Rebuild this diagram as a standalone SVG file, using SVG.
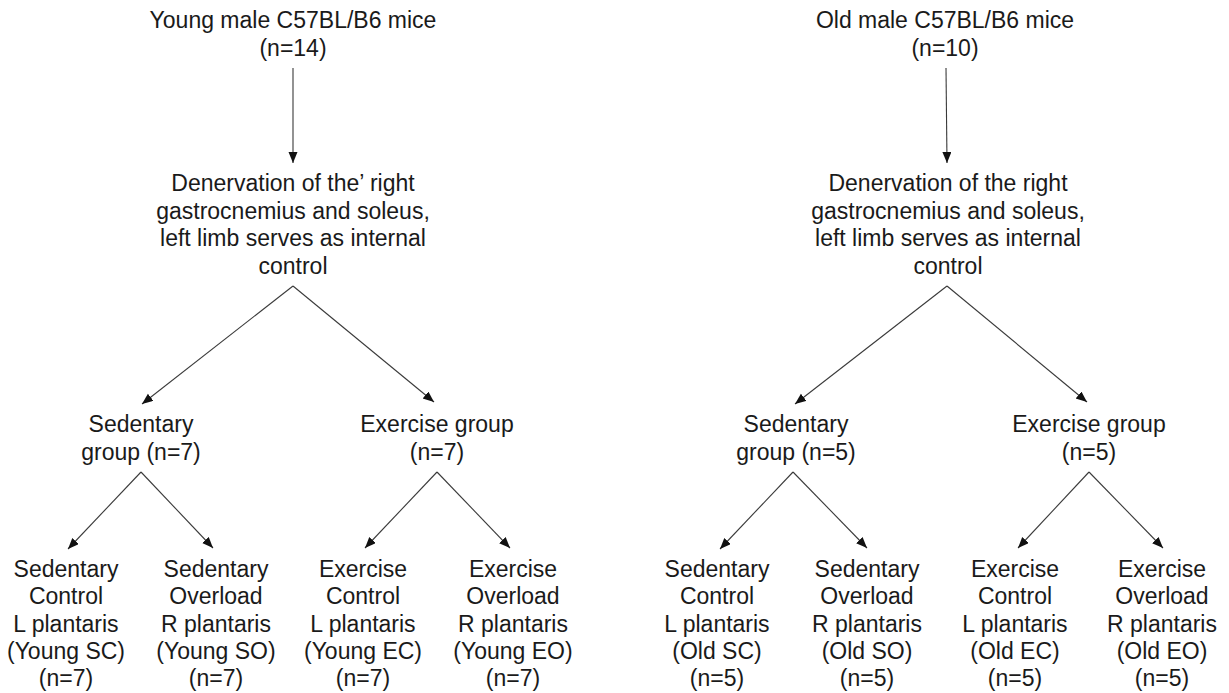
<svg xmlns="http://www.w3.org/2000/svg" width="1229" height="693" viewBox="0 0 1229 693">
<defs>
<marker id="ah" markerUnits="userSpaceOnUse" markerWidth="12" markerHeight="10" refX="11" refY="4.5" orient="auto">
<path d="M0,0 L11,4.5 L0,9 z" fill="#111"/>
</marker>
<style>
text{font-family:"Liberation Sans",Arial,sans-serif;font-size:23px;fill:#1a1a1a;text-anchor:middle}
.c line{stroke:#3a3a3a;stroke-width:1.1;marker-end:url(#ah)}
</style>
</defs>
<rect width="1229" height="693" fill="#fff"/>
<g id="young-root"><text x="293" y="28">Young male C57BL/B6 mice</text><text x="293" y="56">(n=14)</text></g>
<g id="old-root"><text x="945" y="28">Old male C57BL/B6 mice</text><text x="945" y="56">(n=10)</text></g>
<g id="young-denerv"><text x="293" y="191">Denervation of the’ right</text><text x="293" y="218.5">gastrocnemius and soleus,</text><text x="293" y="246">left limb serves as internal</text><text x="293" y="273.5">control</text></g>
<g id="old-denerv"><text x="948" y="191">Denervation of the right</text><text x="948" y="218.5">gastrocnemius and soleus,</text><text x="948" y="246">left limb serves as internal</text><text x="948" y="273.5">control</text></g>
<g id="young-sed"><text x="141" y="432">Sedentary</text><text x="141" y="460">group (n=7)</text></g>
<g id="young-ex"><text x="437" y="432">Exercise group</text><text x="437" y="460">(n=7)</text></g>
<g id="old-sed"><text x="796" y="432">Sedentary</text><text x="796" y="460">group (n=5)</text></g>
<g id="old-ex"><text x="1089" y="432">Exercise group</text><text x="1089" y="460">(n=5)</text></g>
<g id="young-sc"><text x="66" y="577">Sedentary</text><text x="66" y="604">Control</text><text x="66" y="632">L plantaris</text><text x="66" y="659">(Young SC)</text><text x="66" y="686">(n=7)</text></g>
<g id="young-so"><text x="216" y="577">Sedentary</text><text x="216" y="604">Overload</text><text x="216" y="632">R plantaris</text><text x="216" y="659">(Young SO)</text><text x="216" y="686">(n=7)</text></g>
<g id="young-ec"><text x="363" y="577">Exercise</text><text x="363" y="604">Control</text><text x="363" y="632">L plantaris</text><text x="363" y="659">(Young EC)</text><text x="363" y="686">(n=7)</text></g>
<g id="young-eo"><text x="513" y="577">Exercise</text><text x="513" y="604">Overload</text><text x="513" y="632">R plantaris</text><text x="513" y="659">(Young EO)</text><text x="513" y="686">(n=7)</text></g>
<g id="old-sc"><text x="717" y="577">Sedentary</text><text x="717" y="604">Control</text><text x="717" y="632">L plantaris</text><text x="717" y="659">(Old SC)</text><text x="717" y="686">(n=5)</text></g>
<g id="old-so"><text x="867" y="577">Sedentary</text><text x="867" y="604">Overload</text><text x="867" y="632">R plantaris</text><text x="867" y="659">(Old SO)</text><text x="867" y="686">(n=5)</text></g>
<g id="old-ec"><text x="1015" y="577">Exercise</text><text x="1015" y="604">Control</text><text x="1015" y="632">L plantaris</text><text x="1015" y="659">(Old EC)</text><text x="1015" y="686">(n=5)</text></g>
<g id="old-eo"><text x="1162" y="577">Exercise</text><text x="1162" y="604">Overload</text><text x="1162" y="632">R plantaris</text><text x="1162" y="659">(Old EO)</text><text x="1162" y="686">(n=5)</text></g>
<g id="connectors" class="c">
<line x1="293" y1="68" x2="293" y2="163"/>
<line x1="946" y1="68" x2="947" y2="163"/>
<line x1="293" y1="286" x2="142" y2="404"/>
<line x1="293" y1="286" x2="434" y2="402"/>
<line x1="947" y1="286" x2="795" y2="404"/>
<line x1="947" y1="286" x2="1087" y2="402"/>
<line x1="141" y1="472" x2="68" y2="549"/>
<line x1="141" y1="472" x2="213" y2="548"/>
<line x1="437" y1="472" x2="365" y2="548"/>
<line x1="437" y1="472" x2="510" y2="548"/>
<line x1="793" y1="472" x2="720" y2="549"/>
<line x1="793" y1="472" x2="867" y2="548"/>
<line x1="1089" y1="472" x2="1018" y2="548"/>
<line x1="1089" y1="472" x2="1163" y2="548"/>
</g>
</svg>
